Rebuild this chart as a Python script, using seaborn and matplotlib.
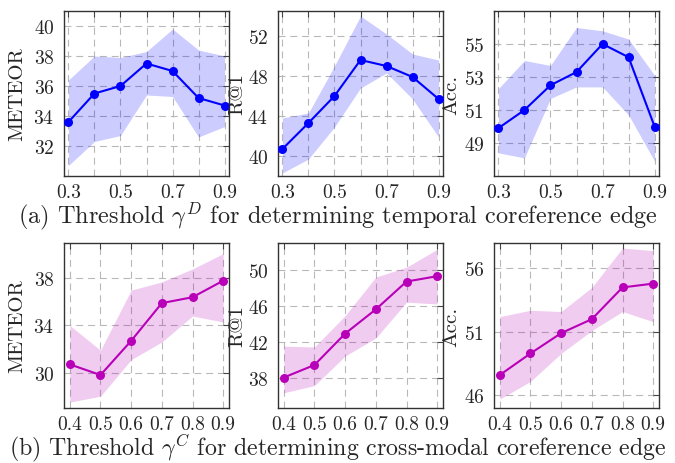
import numpy as np
import pandas as pd
import matplotlib
matplotlib.use("Agg")
import matplotlib.pyplot as plt
import seaborn as sns

# Thresholds swept for each experiment
gamma_d = [0.3, 0.4, 0.5, 0.6, 0.7, 0.8, 0.9]
gamma_c = [0.4, 0.5, 0.6, 0.7, 0.8, 0.9]

# (a) temporal coreference edge threshold
meteor_d = [33.6, 35.5, 36.0, 37.5, 37.0, 35.2, 34.7]
meteor_d_hi = [36.4, 38.0, 37.9, 38.3, 39.8, 38.4, 38.0]
meteor_d_lo = [30.7, 32.3, 32.7, 35.4, 35.3, 32.6, 33.3]

r1_d = [40.7, 43.3, 46.0, 49.6, 49.0, 47.9, 45.7]
r1_d_hi = [43.8, 44.3, 49.0, 54.0, 52.2, 50.2, 49.6]
r1_d_lo = [38.3, 39.7, 42.9, 46.8, 48.3, 45.7, 41.9]

acc_d = [49.9, 51.0, 52.5, 53.3, 55.0, 54.2, 50.0]
acc_d_hi = [52.3, 54.0, 53.7, 56.0, 55.8, 55.3, 53.1]
acc_d_lo = [48.4, 48.1, 51.7, 52.4, 52.4, 50.7, 47.9]

# (b) cross-modal coreference edge threshold
meteor_c = [30.7, 29.8, 32.7, 35.9, 36.4, 37.8]
meteor_c_hi = [34.0, 31.9, 37.0, 37.7, 38.8, 40.1]
meteor_c_lo = [27.5, 28.0, 31.1, 32.6, 34.8, 34.3]

r1_c = [38.0, 39.4, 42.9, 45.6, 48.7, 49.3]
r1_c_hi = [41.5, 41.4, 44.9, 49.2, 50.3, 52.3]
r1_c_lo = [36.3, 37.1, 40.4, 42.4, 46.4, 46.2]

acc_c = [47.6, 49.3, 50.9, 52.0, 54.5, 54.8]
acc_c_hi = [52.2, 52.7, 52.6, 54.5, 57.6, 57.4]
acc_c_lo = [45.7, 47.1, 49.3, 51.1, 52.6, 51.8]

ylabels = ["METEOR", "R@1", "Acc."]
yticks_d = [[32, 34, 36, 38, 40], [40, 44, 48, 52], [49, 51, 53, 55]]
yticks_c = [[30, 34, 38], [38, 42, 46, 50], [46, 51, 56]]
ylims_d = [(30, 41), (38, 54.5), (47, 57)]
ylims_c = [(27, 41), (34.6, 53), (45, 58)]
xlabels_d = ["0.3", "", "0.5", "", "0.7", "", "0.9"]
xlabels_c = ["0.4", "0.5", "0.6", "0.7", "0.8", "0.9"]
caption_d = r"(a) Threshold $\gamma^D$ for determining temporal coreference edge"
caption_c = r"(b) Threshold $\gamma^C$ for determining cross-modal coreference edge"

BLUE = (0.0, 0.0, 1.0)
VIOLET = (0.72, 0.0, 0.72)

sns.set_style("white")
plt.rcParams["font.family"] = ["cmr10", "DejaVu Serif"]
plt.rcParams["mathtext.fontset"] = "cm"
plt.rcParams["axes.formatter.use_mathtext"] = True
plt.rcParams["lines.scale_dashes"] = False

fig = plt.figure(figsize=(6.75, 4.64), dpi=100)

lefts = [64 / 675, 278 / 675, 494 / 675]
width = 165 / 675
height = 165 / 464
bottoms = [(464 - 177) / 464, (464 - 409) / 464]
# pixel column of the right-hand edge of each rotated y label
ylabel_right = [26, 246, 460]


def draw_panel(ax, xs, mean, lo, hi, color, ylabel, yticks, ylim, xlabels, xpad, lab_x):
    df = pd.DataFrame({"x": xs, "y": mean})
    ax.fill_between(xs, lo, hi, color=color, alpha=0.2, linewidth=0, zorder=1)
    sns.lineplot(data=df, x="x", y="y", ax=ax, color=color, linewidth=1.5,
                 marker="o", markersize=6.5, markeredgewidth=0, zorder=3)
    ax.set_xlim(xs[0] - xpad, xs[-1] + xpad)
    ax.set_ylim(*ylim)
    ax.set_xticks(xs)
    ax.set_xticklabels(xlabels)
    ax.set_yticks(yticks)
    ax.set_xlabel("")
    ax.set_ylabel(ylabel, fontsize=15)
    x0 = ax.get_position().x0 * 675
    ax.yaxis.set_label_coords((lab_x - x0) / 165, 0.5)
    ax.grid(True, color="#b8b8b8", linestyle=(0, (5, 3.5)), linewidth=0.8, zorder=0)
    ax.set_axisbelow(True)
    ax.tick_params(direction="in", top=True, right=True, length=4, width=0.8,
                   color="#444444", labelsize=14)
    ax.tick_params(axis="y", pad=7)
    ax.tick_params(axis="x", pad=5)
    for s in ax.spines.values():
        s.set_color("#333333")
        s.set_linewidth(1.0)


rows = [
    (gamma_d, [(meteor_d, meteor_d_lo, meteor_d_hi), (r1_d, r1_d_lo, r1_d_hi),
               (acc_d, acc_d_lo, acc_d_hi)], BLUE, yticks_d, ylims_d, xlabels_d, 0.017),
    (gamma_c, [(meteor_c, meteor_c_lo, meteor_c_hi), (r1_c, r1_c_lo, r1_c_hi),
               (acc_c, acc_c_lo, acc_c_hi)], VIOLET, yticks_c, ylims_c, xlabels_c, 0.019),
]

for r, (xs, series, color, yts, ylims, xl, pad) in enumerate(rows):
    for c in range(3):
        ax = fig.add_axes([lefts[c], bottoms[r], width, height])
        mean, lo, hi = series[c]
        draw_panel(ax, xs, mean, lo, hi, color, ylabels[c], yts[c], ylims[c], xl, pad,
                   ylabel_right[c])

fig.text(0.5, 1 - 216 / 464, caption_d, ha="center", va="center", fontsize=17.5)
fig.text(0.5, 1 - 448 / 464, caption_c, ha="center", va="center", fontsize=17.2)

fig.savefig("out.png", dpi=100)
